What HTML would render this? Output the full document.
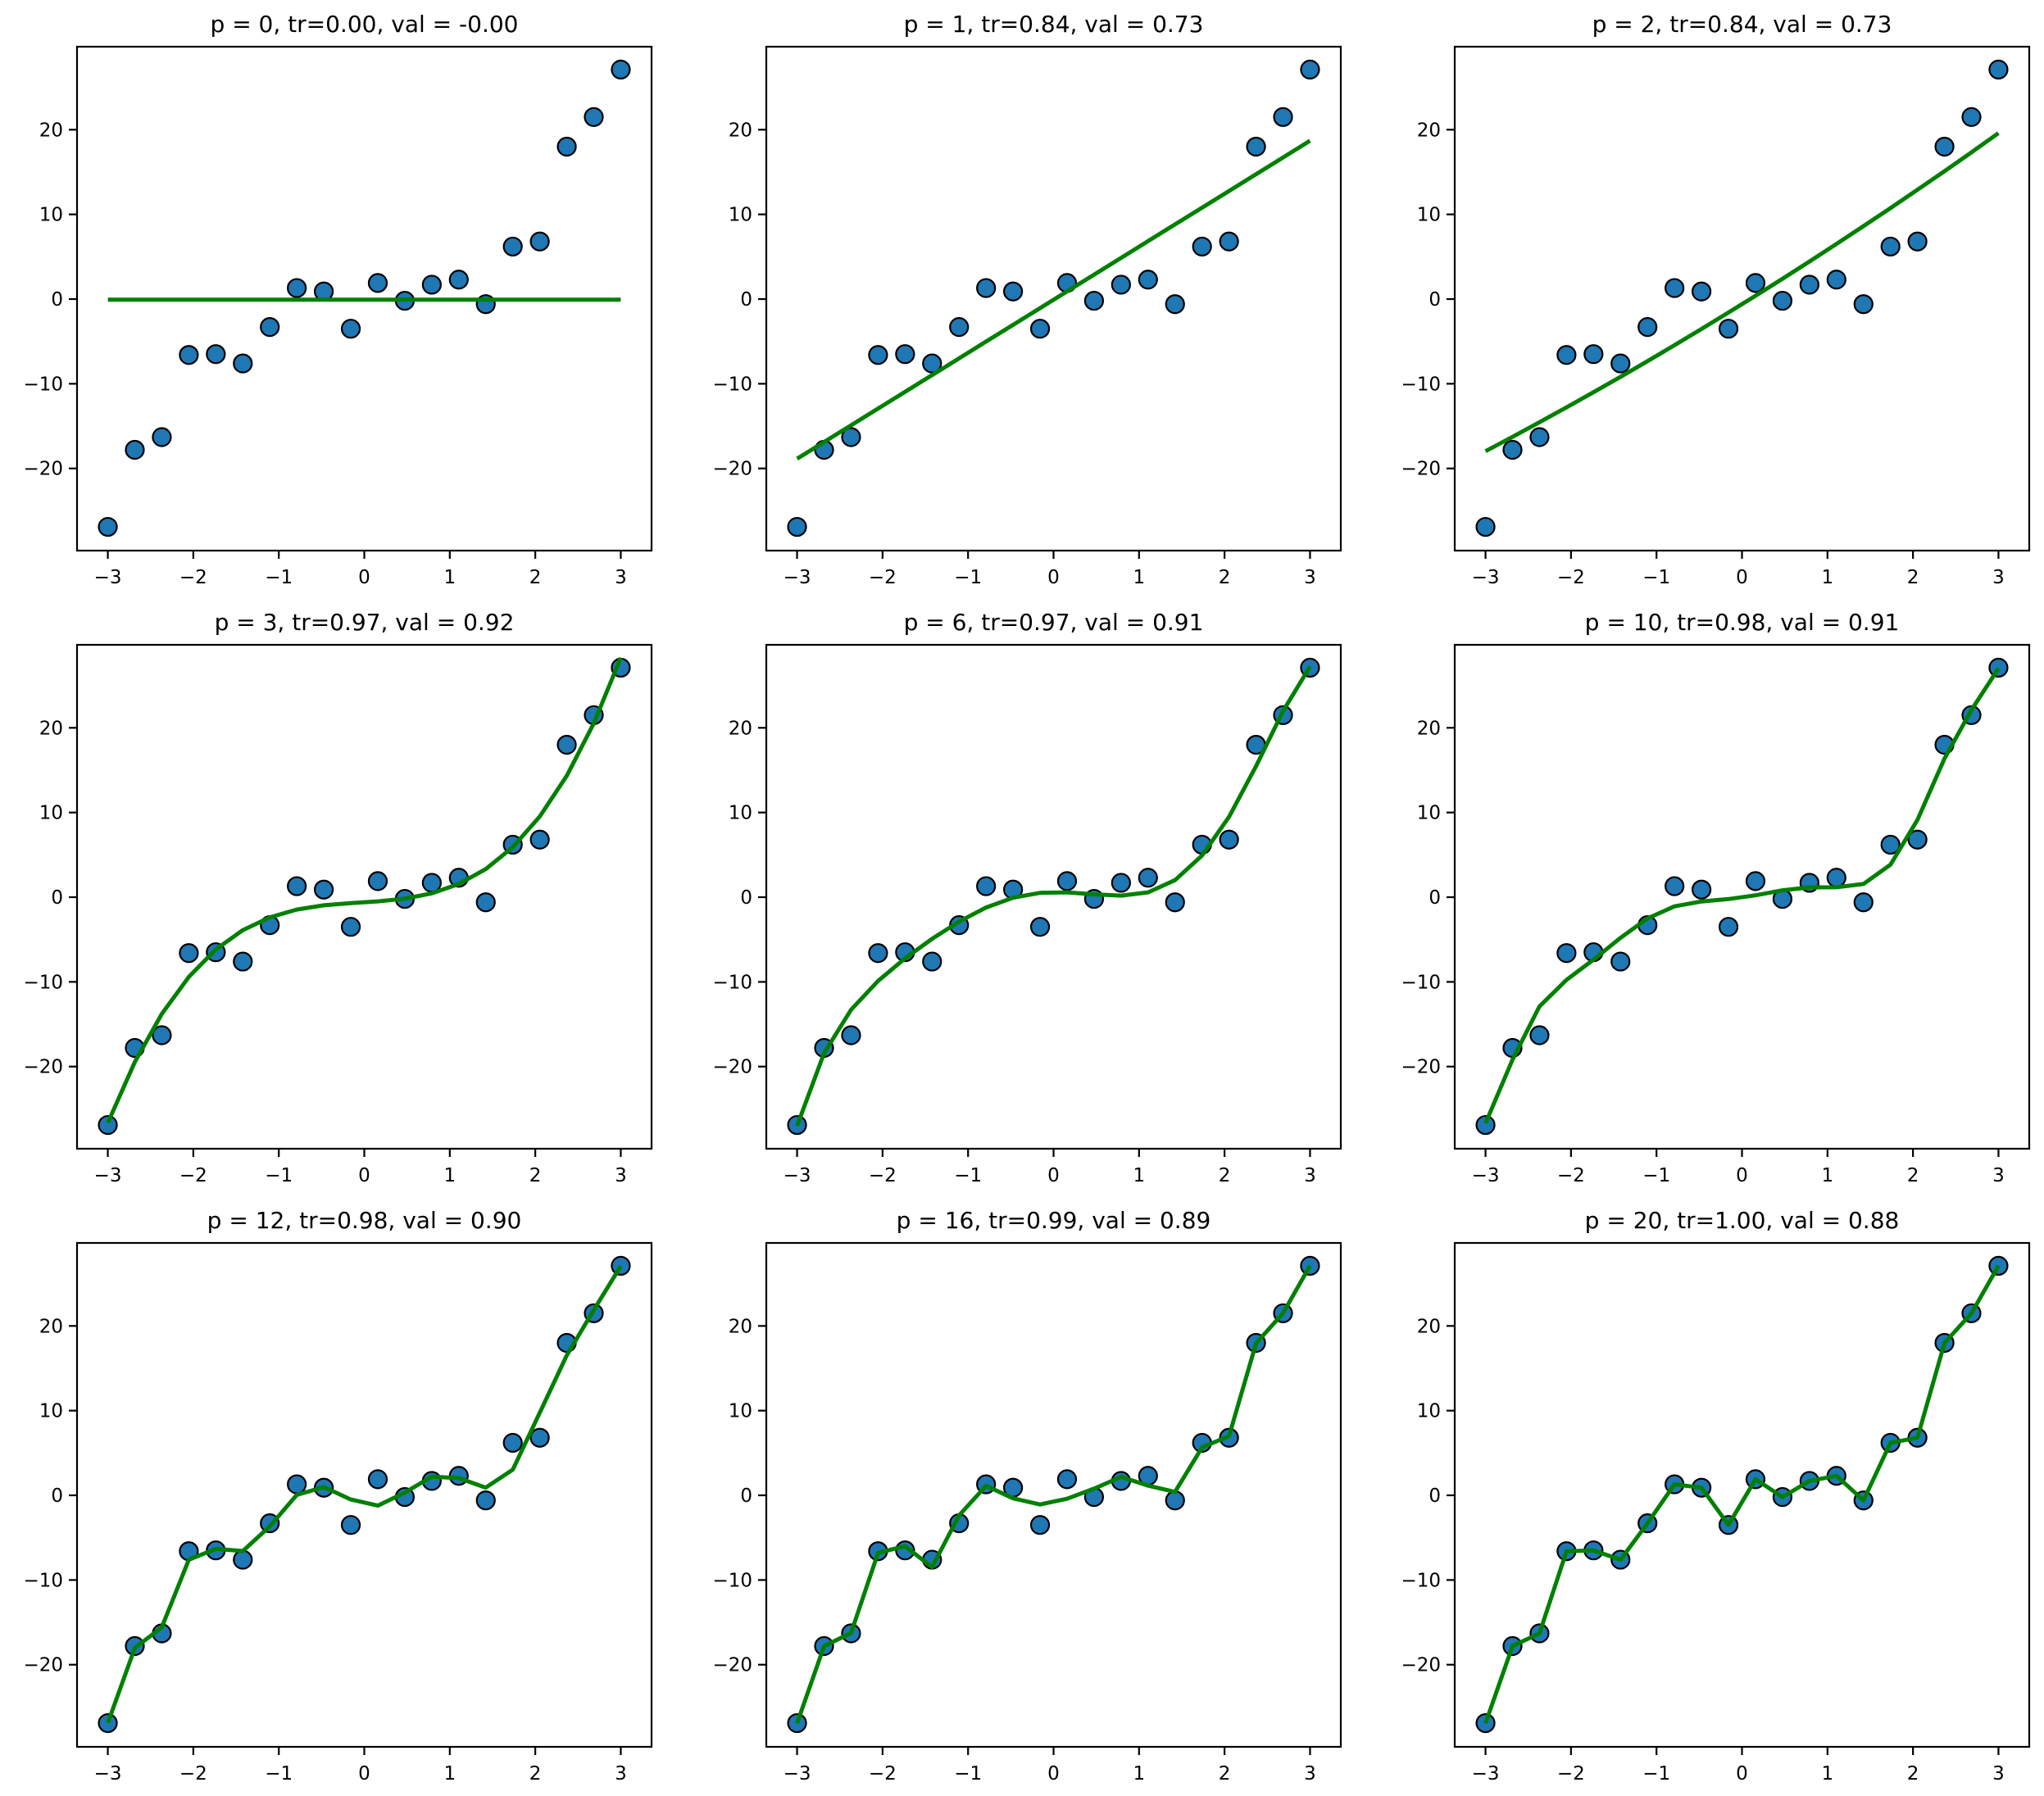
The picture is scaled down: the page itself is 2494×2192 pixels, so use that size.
<!DOCTYPE html>
<html><head><meta charset="utf-8">
<style>
html,body{margin:0;padding:0;background:#fff;}
svg{display:block;font-family:"DejaVu Sans","Liberation Sans",sans-serif;}
</style></head>
<body>
<svg id="fig" width="2494" height="2192" viewBox="0 0 2494 2192" xmlns="http://www.w3.org/2000/svg"></svg>
<script>
const xData = [-3,-2.6842,-2.3684,-2.0526,-1.7368,-1.4211,-1.1053,-0.7895,-0.4737,-0.1579,0.1579,0.4737,0.7895,1.1053,1.4211,1.7368,2.0526,2.3684,2.6842,3];
const yData = [-26.9,-17.8,-16.3,-6.6,-6.5,-7.6,-3.3,1.3,0.9,-3.5,1.9,-0.2,1.7,2.3,-0.6,6.2,6.8,18.0,21.5,27.1];
const degrees = [0,1,2,3,6,10,12,16,20];
const trScores = ["0.00","0.84","0.84","0.97","0.97","0.98","0.98","0.99","1.00"];
const valScores = ["-0.00","0.73","0.73","0.92","0.91","0.91","0.90","0.89","0.88"];
const xTicks = [-3,-2,-1,0,1,2,3];
const xTickLabels = ["\u22123","\u22122","\u22121","0","1","2","3"];
const yTicks = [-20,-10,0,10,20];
const yTickLabels = ["\u221220","\u221210","0","10","20"];

const NS="http://www.w3.org/2000/svg";
const svg=document.getElementById('fig');
const colL=[94,935,1775], W=701;
const rowT=[57,787,1517], H=615;
const XMIN=-3.36,XMAX=3.36,YMIN=-29.7,YMAX=29.8;

function mk(tag,attrs,parent){const e=document.createElementNS(NS,tag);for(const k in attrs)e.setAttribute(k,attrs[k]);(parent||svg).appendChild(e);return e;}

function legendre(n,t){let p0=1,p1=t;if(n===0)return 1;if(n===1)return t;for(let k=2;k<=n;k++){const p2=((2*k-1)*t*p1-(k-1)*p0)/k;p0=p1;p1=p2;}return p1;}
function fitValues(deg){
  const n=xData.length;const basis=[];
  for(let d=0;d<=deg;d++){
    let v=xData.map(x=>legendre(d,x/3));
    for(let pass=0;pass<2;pass++){for(const q of basis){let dot=0;for(let i=0;i<n;i++)dot+=v[i]*q[i];for(let i=0;i<n;i++)v[i]-=dot*q[i];}}
    let nr=Math.sqrt(v.reduce((s,a)=>s+a*a,0));
    if(nr<1e-8)continue;
    basis.push(v.map(a=>a/nr));
  }
  const out=new Array(n).fill(0);
  for(const q of basis){let dot=0;for(let i=0;i<n;i++)dot+=yData[i]*q[i];for(let i=0;i<n;i++)out[i]+=dot*q[i];}
  return out;
}

degrees.forEach((p,idx)=>{
  const L=colL[idx%3],T=rowT[Math.floor(idx/3)];
  const sx=x=>L+(x-XMIN)/(XMAX-XMIN)*W;
  const sy=y=>T+(YMAX-y)/(YMAX-YMIN)*H;
  const g=mk('g',{});
  
  
  const title=mk('text',{x:L+W/2,y:T-18,'text-anchor':'middle','font-size':'28','fill':'#000'},g);
  title.textContent='p = '+p+', tr='+trScores[idx]+', val = '+valScores[idx];
  
  
  xTicks.forEach((t,i)=>{
    const X=sx(t);
    mk('line',{x1:X,x2:X,y1:T+H,y2:T+H+10,stroke:'#000','stroke-width':2.2},g);
    const tx=mk('text',{x:X,y:T+H+40,'text-anchor':'middle','font-size':'23',fill:'#000'},g);
    tx.textContent=xTickLabels[i];
    
    
  });
  yTicks.forEach((t,i)=>{
    const Y=sy(t);
    mk('line',{x1:L-10,x2:L,y1:Y,y2:Y,stroke:'#000','stroke-width':2.2},g);
    const ty=mk('text',{x:L-17,y:Y+8,'text-anchor':'end','font-size':'23',fill:'#000'},g);
    ty.textContent=yTickLabels[i];
    
    
  });
  xData.forEach((x,i)=>{
    const c=mk('ellipse',{cx:sx(x),cy:sy(yData[i]),rx:11,ry:11,fill:'#1f77b4',stroke:'#000','stroke-width':2.2},g);
    
    
  });
  const fv=fitValues(Math.min(p,19));
  const pts=xData.map((x,i)=>sx(x).toFixed(1)+','+sy(fv[i]).toFixed(1)).join(' ');
  const pl=mk('polyline',{points:pts,fill:'none',stroke:'#008000','stroke-width':5,'stroke-linejoin':'round'},g);
  
  
  const fr=mk('rect',{x:L,y:T,width:W,height:H,fill:'none',stroke:'#000','stroke-width':2.2},g);
  
  
});
</script>
</body></html>
